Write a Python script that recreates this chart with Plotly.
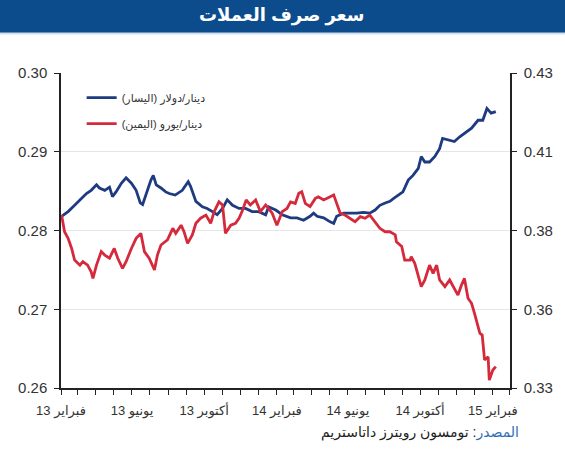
import plotly.graph_objects as go

# ---- data ----
usd_dates = [
    "2013-02-02", "2013-02-13", "2013-02-24", "2013-03-07", "2013-03-16", "2013-03-24",
    "2013-04-02", "2013-04-07", "2013-04-16", "2013-04-24", "2013-04-29", "2013-05-05",
    "2013-05-14", "2013-05-22", "2013-05-31", "2013-06-08", "2013-06-15", "2013-06-19",
    "2013-06-25", "2013-07-03", "2013-07-07", "2013-07-12", "2013-07-20", "2013-07-28",
    "2013-08-03", "2013-08-13", "2013-08-25", "2013-08-31", "2013-09-04", "2013-09-08",
    "2013-09-17", "2013-09-28", "2013-10-06", "2013-10-15", "2013-10-23", "2013-11-01",
    "2013-11-09", "2013-11-18", "2013-11-29", "2013-12-10", "2013-12-21", "2014-01-01",
    "2014-01-13", "2014-01-18", "2014-01-30", "2014-02-10", "2014-02-18", "2014-02-24",
    "2014-03-07", "2014-03-18", "2014-03-29", "2014-04-04", "2014-04-10", "2014-04-21",
    "2014-05-02", "2014-05-08", "2014-05-13", "2014-05-25", "2014-06-05", "2014-06-16",
    "2014-06-27", "2014-07-08", "2014-07-17", "2014-07-25", "2014-08-03", "2014-08-11",
    "2014-08-18", "2014-08-25", "2014-09-02", "2014-09-11", "2014-09-19", "2014-09-28",
    "2014-10-03", "2014-10-09", "2014-10-17", "2014-10-26", "2014-11-03", "2014-11-08",
    "2014-11-17", "2014-11-28", "2014-12-07", "2014-12-15", "2014-12-27", "2015-01-07",
    "2015-01-15", "2015-01-22", "2015-01-29", "2015-02-06",
]
usd_values = [
    0.2818, 0.2824, 0.2832, 0.2841, 0.2847, 0.2851,
    0.2858, 0.2854, 0.2851, 0.2855, 0.2843, 0.2849,
    0.2860, 0.2867, 0.2860, 0.2851, 0.2835, 0.2833,
    0.2847, 0.2864, 0.2870, 0.2858, 0.2854, 0.2849,
    0.2847, 0.2845, 0.2851, 0.2858, 0.2862, 0.2856,
    0.2837, 0.2830, 0.2828, 0.2824, 0.2820, 0.2828,
    0.2839, 0.2832, 0.2828, 0.2828, 0.2824, 0.2824,
    0.2820, 0.2830, 0.2826, 0.2820, 0.2818, 0.2816,
    0.2816, 0.2813, 0.2818, 0.2822, 0.2818, 0.2816,
    0.2811, 0.2809, 0.2818, 0.2822, 0.2822, 0.2822,
    0.2823, 0.2822, 0.2826, 0.2832, 0.2835, 0.2837,
    0.2841, 0.2845, 0.2849, 0.2864, 0.2870, 0.2879,
    0.2894, 0.2887, 0.2887, 0.2894, 0.2904, 0.2917,
    0.2915, 0.2913, 0.2919, 0.2923, 0.2930, 0.2940,
    0.2940, 0.2955, 0.2949, 0.2951,
]

eur_dates = [
    "2013-02-02", "2013-02-07", "2013-02-13", "2013-02-19", "2013-02-24", "2013-03-05",
    "2013-03-10", "2013-03-18", "2013-03-24", "2013-03-27", "2013-04-02", "2013-04-10",
    "2013-04-16", "2013-04-24", "2013-05-02", "2013-05-08", "2013-05-16", "2013-05-22",
    "2013-05-31", "2013-06-08", "2013-06-16", "2013-06-22", "2013-06-30", "2013-07-09",
    "2013-07-14", "2013-07-20", "2013-07-31", "2013-08-09", "2013-08-14", "2013-08-23",
    "2013-08-28", "2013-09-03", "2013-09-11", "2013-09-17", "2013-09-25", "2013-10-04",
    "2013-10-12", "2013-10-18", "2013-10-26", "2013-11-01", "2013-11-06", "2013-11-15",
    "2013-11-23", "2013-11-29", "2013-12-04", "2013-12-11", "2013-12-18", "2013-12-27",
    "2014-01-04", "2014-01-13", "2014-01-24", "2014-02-01", "2014-02-10", "2014-02-18",
    "2014-02-24", "2014-03-04", "2014-03-10", "2014-03-15", "2014-03-21", "2014-03-29",
    "2014-04-07", "2014-04-12", "2014-04-21", "2014-05-02", "2014-05-08", "2014-05-13",
    "2014-05-19", "2014-05-27", "2014-06-05", "2014-06-13", "2014-06-22", "2014-06-30",
    "2014-07-08", "2014-07-17", "2014-07-25", "2014-08-03", "2014-08-11", "2014-08-20",
    "2014-08-22", "2014-08-31", "2014-09-05", "2014-09-14", "2014-09-16", "2014-09-22",
    "2014-09-28", "2014-10-03", "2014-10-09", "2014-10-17", "2014-10-23", "2014-10-29",
    "2014-11-03", "2014-11-12", "2014-11-20", "2014-11-26", "2014-12-04", "2014-12-10",
    "2014-12-15", "2014-12-21", "2014-12-27", "2015-01-01", "2015-01-10", "2015-01-14",
    "2015-01-18", "2015-01-24", "2015-01-26", "2015-02-01", "2015-02-06",
]
eur_values = [
    0.3849, 0.3796, 0.3775, 0.3743, 0.3706, 0.3690,
    0.3701, 0.3690, 0.3669, 0.3648, 0.3690, 0.3733,
    0.3722, 0.3712, 0.3743, 0.3712, 0.3680, 0.3701,
    0.3743, 0.3775, 0.3791, 0.3733, 0.3712, 0.3675,
    0.3722, 0.3754, 0.3770, 0.3807, 0.3791, 0.3817,
    0.3796, 0.3759, 0.3786, 0.3823, 0.3839, 0.3849,
    0.3823, 0.3860, 0.3891, 0.3881, 0.3791, 0.3817,
    0.3823, 0.3839, 0.3860, 0.3897, 0.3881, 0.3897,
    0.3860, 0.3881, 0.3855, 0.3817, 0.3860, 0.3870,
    0.3891, 0.3886, 0.3918, 0.3923, 0.3886, 0.3876,
    0.3902, 0.3907, 0.3897, 0.3907, 0.3913, 0.3886,
    0.3855, 0.3849, 0.3839, 0.3828, 0.3844, 0.3839,
    0.3849, 0.3828, 0.3807, 0.3796, 0.3796, 0.3786,
    0.3764, 0.3749, 0.3706, 0.3706, 0.3717, 0.3696,
    0.3659, 0.3622, 0.3643, 0.3690, 0.3664, 0.3690,
    0.3643, 0.3622, 0.3643, 0.3622, 0.3595, 0.3627,
    0.3648, 0.3585, 0.3569, 0.3537, 0.3474, 0.3468,
    0.3389, 0.3399, 0.3325, 0.3357, 0.3368,
]

x_tick_dates = ["2013-02-01", "2013-06-01", "2013-10-01", "2014-02-01",
                "2014-06-01", "2014-10-01", "2015-02-01"]
x_tick_text = ["فبراير 13", "يونيو 13", "أكتوبر 13", "فبراير 14",
               "يونيو 14", "أكتوبر 14", "فبراير 15"]

left_ticks = [0.26, 0.27, 0.28, 0.29, 0.30]
right_ticks = [0.33, 0.355, 0.38, 0.405, 0.43]
right_tick_text = ["0.33", "0.36", "0.38", "0.41", "0.43"]

title_text = "سعر صرف العملات"
series_usd_name = "دينار/دولار (اليسار)"
series_eur_name = "دينار/يورو (اليمين)"
source_label = "المصدر"
source_text = "تومسون رويترز داتاستريم"

# ---- styling ----
FONT = "Liberation Sans, Arial, DejaVu Sans, sans-serif"
NAVY = "#1f3b80"
RED = "#d42a3c"
BAR = "#0c4c8d"
AXIS = "#222222"
TXT = "#333333"

RLE, PDF = "\u202b", "\u202c"

fig = go.Figure()
fig.add_trace(go.Scatter(
    x=usd_dates, y=usd_values, mode="lines", name=RLE + series_usd_name + PDF,
    line=dict(color=NAVY, width=2.8), yaxis="y", legendgroup="a",
))
fig.add_trace(go.Scatter(
    x=eur_dates, y=eur_values, mode="lines", name=RLE + series_eur_name + PDF,
    line=dict(color=RED, width=2.8), yaxis="y2", legendgroup="b",
))

fig.update_layout(
    width=565, height=450,
    margin=dict(l=61, r=53, t=73, b=62),
    paper_bgcolor="white", plot_bgcolor="white",
    font=dict(family=FONT, color=TXT, size=13),
    showlegend=True,
    legend=dict(x=0.046, y=0.968, xanchor="left", yanchor="top",
                bgcolor="rgba(0,0,0,0)", font=dict(size=11, color=TXT),
                tracegroupgap=7, itemwidth=30),
    xaxis=dict(
        type="date", range=["2013-02-01", "2015-03-02"],
        tickmode="array", tickvals=x_tick_dates, ticktext=x_tick_text,
        ticks="outside", ticklen=5, tickcolor=AXIS, tickwidth=1,
        showline=True, linecolor=AXIS, linewidth=1.5,
        showgrid=False, zeroline=False,
        tickfont=dict(size=13, color=TXT), ticklabelstandoff=5,
        minor=dict(ticks="outside", ticklen=5, tickcolor=AXIS, tickwidth=1,
                   dtick="M1", tick0="2013-02-01", showgrid=False),
    ),
    yaxis=dict(
        range=[0.26, 0.30], tickmode="array", tickvals=left_ticks,
        tickformat=".2f", ticks="outside", ticklen=5, tickcolor=AXIS,
        showline=True, linecolor=AXIS, linewidth=1.5,
        showgrid=True, gridcolor="#e6e6e6", gridwidth=1, zeroline=False,
        tickfont=dict(size=15, color=TXT), ticklabelstandoff=4,
    ),
    yaxis2=dict(
        range=[0.33, 0.43], overlaying="y", side="right",
        tickmode="array", tickvals=right_ticks, ticktext=right_tick_text,
        ticks="outside", ticklen=5, tickcolor=AXIS,
        showline=True, linecolor=AXIS, linewidth=1.5,
        showgrid=False, zeroline=False,
        tickfont=dict(size=15, color=TXT), ticklabelstandoff=4,
    ),
    shapes=[
        dict(type="rect", xref="paper", yref="paper",
             x0=-0.14, x1=1.13, y0=1.128, y1=1.24,
             fillcolor=BAR, line=dict(width=0), layer="above"),
        dict(type="rect", xref="paper", yref="paper",
             x0=-0.14, x1=1.13, y0=1.122, y1=1.128,
             fillcolor="#cfe0f2", line=dict(width=0), layer="above"),
    ],
    annotations=[
        dict(text="<b>" + title_text + "</b>", x=0.491, y=1.181,
             xref="paper", yref="paper", xanchor="center", yanchor="middle",
             showarrow=False, font=dict(size=18, color="white", family=FONT)),
        dict(text=RLE + "<span style='color:#2f6fb5'>" + source_label + "</span>: "
             + source_text + PDF,
             x=1.024, y=-0.14, xref="paper", yref="paper",
             xanchor="right", yanchor="middle", showarrow=False,
             font=dict(size=14, color="#222222", family=FONT)),
    ],
)

fig.write_html("out.html")
